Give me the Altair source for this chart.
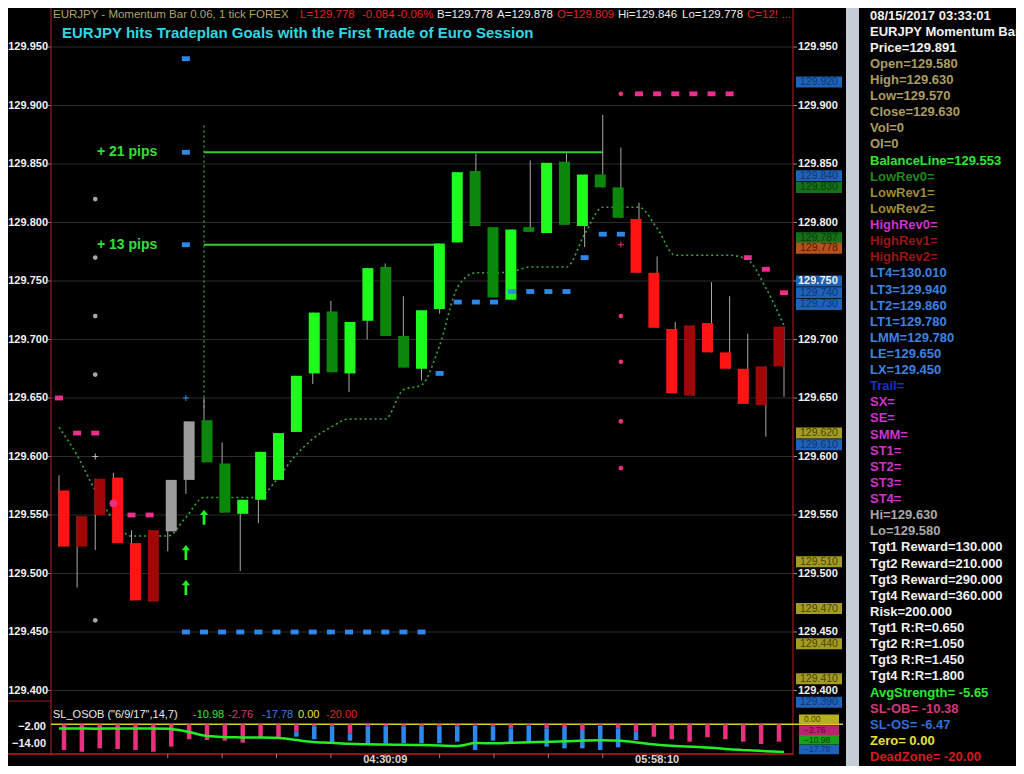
import altair as alt
import pandas as pd

FONT = "Liberation Sans"

# ---------------- price bars ----------------
bar_idx = list(range(41))
bar_open = [129.571, 129.549, 129.581, 129.582, 129.526, 129.537, 129.536, 129.580, 129.595, 129.552,
            129.551, 129.563, 129.580, 129.621, 129.671, 129.672, 129.671, 129.716, 129.703, 129.676,
            129.675, 129.726, 129.783, 129.797, 129.736, 129.734, 129.792, 129.791, 129.798, 129.797,
            129.830, 129.804, 129.803, 129.757, 129.709, 129.712, 129.714, 129.689, 129.675, 129.677,
            129.711]
bar_close = [129.523, 129.523, 129.550, 129.526, 129.477, 129.476, 129.580, 129.630, 129.631, 129.594,
             129.563, 129.604, 129.620, 129.669, 129.723, 129.724, 129.715, 129.761, 129.762, 129.703,
             129.725, 129.782, 129.843, 129.844, 129.796, 129.794, 129.796, 129.851, 129.852, 129.841,
             129.841, 129.830, 129.757, 129.710, 129.654, 129.652, 129.689, 129.675, 129.645, 129.644,
             129.677]
bar_high = [129.584, 129.549, 129.581, 129.586, 129.537, 129.537, 129.580, 129.630, 129.650, 129.612,
            129.563, 129.604, 129.620, 129.669, 129.723, 129.733, 129.715, 129.761, 129.765, 129.737,
            129.725, 129.782, 129.843, 129.859, 129.796, 129.794, 129.853, 129.851, 129.859, 129.841,
            129.892, 129.864, 129.817, 129.771, 129.715, 129.712, 129.749, 129.737, 129.705, 129.677,
            129.711]
bar_low = [129.523, 129.488, 129.520, 129.526, 129.477, 129.476, 129.519, 129.568, 129.595, 129.552,
           129.502, 129.543, 129.580, 129.621, 129.662, 129.672, 129.655, 129.700, 129.703, 129.676,
           129.665, 129.722, 129.783, 129.797, 129.736, 129.734, 129.792, 129.791, 129.798, 129.779,
           129.830, 129.804, 129.757, 129.710, 129.654, 129.652, 129.689, 129.675, 129.645, 129.617,
           129.651]
bar_kind = ["bear", "bear2", "bear2", "bear", "bear", "bear2", "flat", "flat", "bull2", "bull2",
            "bull", "bull", "bull", "bull", "bull", "bull2", "bull", "bull", "bull2", "bull2",
            "bull", "bull", "bull", "bull2", "bull2", "bull", "bull2", "bull", "bull2", "bull",
            "bull2", "bull2", "bear", "bear", "bear", "bear2", "bear", "bear", "bear", "bear2",
            "bear2"]

# balance / trail line (dotted)
trail = [129.625, 129.601, 129.571, 129.546, 129.532, 129.532, 129.532, 129.548, 129.565, 129.565,
         129.565, 129.565, 129.580, 129.600, 129.615, 129.625, 129.632, 129.632, 129.632, 129.657,
         129.661, 129.695, 129.745, 129.757, 129.757, 129.758, 129.762, 129.762, 129.762, 129.790,
         129.813, 129.813, 129.813, 129.795, 129.772, 129.772, 129.772, 129.772, 129.768, 129.744,
         129.712]

# markers
blue_sq_idx = [7, 7, 7] + list(range(7, 21)) + [21, 22, 23, 24, 25, 26, 27, 28, 29, 30, 31]
blue_sq_val = [129.940, 129.860, 129.781] + [129.450] * 14 + [129.671, 129.732, 129.732, 129.732,
               129.741, 129.741, 129.741, 129.741, 129.770, 129.790, 129.790]
pink_sq_idx = [0, 1, 2, 4, 5, 32, 33, 34, 35, 36, 37, 38, 39, 40]
pink_sq_val = [129.650, 129.620, 129.620, 129.550, 129.550, 129.910, 129.910, 129.910, 129.910,
               129.910, 129.910, 129.770, 129.760, 129.740]
pink_dot_idx = [3, 31, 31, 31, 31, 31]
pink_dot_val = [129.560, 129.910, 129.720, 129.681, 129.630, 129.590]
pink_dot_kind = ["big", "small", "small", "small", "small", "small"]
gray_dot_idx = [2, 2, 2, 2, 2]
gray_dot_val = [129.820, 129.770, 129.720, 129.670, 129.460]
cross_idx = [7, 31, 2]
cross_val = [129.650, 129.781, 129.600]
cross_kind = ["blue", "pink", "gray"]
arrow_idx = [7, 7, 8]
arrow_val = [129.518, 129.488, 129.548]

# target lines
goal_val = [129.860, 129.781]
goal_from = [8, 8]
goal_to = [30, 21]
goal_text = ["+ 21 pips", "+ 13 pips"]
mark_line_idx = 8
mark_line_top = 129.883
mark_line_bottom = 129.640

price_ticks = [129.40, 129.45, 129.50, 129.55, 129.60, 129.65, 129.70, 129.75, 129.80, 129.85, 129.90, 129.95]

tag_val = [129.830, 129.840, 129.787, 129.778, 129.920, 129.750, 129.740, 129.730,
           129.620, 129.610, 129.510, 129.470, 129.440, 129.410, 129.390]
tag_kind = ["green", "blue", "green", "orange", "blue", "blue", "blue", "blue",
            "olive", "blue", "olive", "olive", "olive", "olive", "blue"]

# ---------------- SL_OSOB indicator ----------------
osob_total = [-18.2, -19.4, -17.0, -17.5, -18.2, -19.4, -15.8, -10.6, -11.1, -11.6,
              -13.0, -9.2, -9.9, -8.8, -10.6, -13.0, -11.6, -13.9, -13.4, -13.4,
              -13.4, -13.4, -12.3, -18.2, -11.6, -13.6, -13.4, -15.8, -17.0, -17.0,
              -18.2, -16.3, -11.1, -8.8, -10.6, -12.3, -9.2, -10.6, -12.3, -13.9,
              -12.3]
osob_pink = [-18.2, -19.4, -17.0, -17.5, -18.2, -19.4, -15.8, -10.6, -11.1, -11.6,
             -13.0, -9.2, -9.9, -5.3, -1.5, -1.5, -6.4, -1.5, -1.5, -1.5,
             -1.5, -1.5, -1.5, -1.0, -1.5, -2.9, -1.0, -2.9, -2.0, -4.1,
             -1.0, -2.9, -5.3, -8.8, -10.6, -12.3, -9.2, -10.6, -12.3, -13.9,
             -12.3]
avg_strength = [-3.0, -3.0, -3.2, -3.0, -3.0, -3.0, -3.2, -5.0, -8.0, -9.0,
                -9.3, -9.4, -9.6, -11.0, -12.5, -13.1, -13.8, -14.1, -14.3, -14.5,
                -14.7, -15.0, -15.3, -13.3, -13.4, -13.0, -12.7, -12.4, -12.0, -11.5,
                -11.3, -11.6, -13.0, -14.5, -15.3, -15.9, -16.6, -17.7, -18.4, -19.0,
                -19.5]
osob_ticks = [-2.0, -14.0]
osob_tag_val = [0.0, -2.76, -10.98, -17.78]
osob_tag_kind = ["yellow", "pink", "green", "blue"]

time_ticks = [6, 9, 12, 15, 18, 21, 24, 27, 30, 33]
time_label_idx = [18, 33]
time_label_text = ["04:30:09", "05:58:10"]

header_parts = ["EURJPY - Momentum Bar 0.06, 1 tick  FOREX", "L=129.778", "-0.084", "-0.06%",
                "B=129.778", "A=129.878", "O=129.809", "Hi=129.846", "Lo=129.778", "C=12! ..."]
header_kind = ["khaki", "red", "red", "red", "white", "white", "red", "white", "white", "red"]
title_text = "EURJPY hits Tradeplan Goals with the First Trade of Euro Session"
osob_parts = ['SL_OSOB ("6/9/17",14,7)', "-10.98", "-2.76", "-17.78", "0.00", "-20.00"]
osob_kind = ["white", "green", "pink", "blue", "yellow", "red"]

panel_lines = ["08/15/2017 03:33:01", "EURJPY Momentum Bar", "Price=129.891", "Open=129.580",
               "High=129.630", "Low=129.570", "Close=129.630", "Vol=0", "OI=0",
               "BalanceLine=129.553", "LowRev0=", "LowRev1=", "LowRev2=", "HighRev0=",
               "HighRev1=", "HighRev2=", "LT4=130.010", "LT3=129.940", "LT2=129.860",
               "LT1=129.780", "LMM=129.780", "LE=129.650", "LX=129.450", "Trail=", "SX=",
               "SE=", "SMM=", "ST1=", "ST2=", "ST3=", "ST4=", "Hi=129.630", "Lo=129.580",
               "Tgt1 Reward=130.000", "Tgt2 Reward=210.000", "Tgt3 Reward=290.000",
               "Tgt4 Reward=360.000", "Risk=200.000", "Tgt1 R:R=0.650", "Tgt2 R:R=1.050",
               "Tgt3 R:R=1.450", "Tgt4 R:R=1.800", "AvgStrength= -5.65", "SL-OB= -10.38",
               "SL-OS= -6.47", "Zero= 0.00", "DeadZone= -20.00"]
panel_kind = ["white", "white", "white", "khaki", "khaki", "khaki", "khaki", "khaki", "khaki",
              "green", "dgreen", "olive", "olive", "magenta", "dred", "dred",
              "blue", "blue", "blue", "blue", "blue", "blue", "blue", "navy",
              "magenta", "magenta", "magenta", "magenta", "magenta", "magenta", "magenta",
              "gray", "gray", "white", "white", "white", "white", "white", "white", "white",
              "white", "white", "green", "pink", "sblue", "yellow", "red"]

# ---------------- layout helpers ----------------
W, H = 1008, 758
X0, X1 = 43, 785          # plot edges (svg px)
dummy = pd.DataFrame({"d": [0]})


def xs():
    return alt.Scale(domain=[0, 40], range=[51, 776], zero=False, nice=False)


def ys():
    return alt.Scale(domain=[129.40, 129.95], range=[682.5, 39], zero=False, nice=False)


def yi():
    return alt.Scale(domain=[-20, 0], range=[744.6, 716.2], zero=False, nice=False)


def XI(field="idx"):
    return alt.X(f"{field}:Q", scale=xs(), axis=None)


def YP(field):
    return alt.Y(f"{field}:Q", scale=ys(), axis=None)


def YO(field):
    return alt.Y(f"{field}:Q", scale=yi(), axis=None)


def prule(x1, x2, y1, y2, color, w=1.0):
    return alt.Chart(dummy).mark_rule(color=color, strokeWidth=w).encode(
        x=alt.value(x1), x2=alt.value(x2), y=alt.value(y1), y2=alt.value(y2))


def ptext(text, x, y, color, size, weight="normal", align="left"):
    return alt.Chart(dummy).mark_text(text=text, color=color, fontSize=size, fontWeight=weight,
                                      align=align, baseline="middle", font=FONT).encode(
        x=alt.value(x), y=alt.value(y))


RECT = "M-1,-0.6L1,-0.6L1,0.6L-1,0.6Z"
TAG = "M-1,-0.24L1,-0.24L1,0.24L-1,0.24Z"
ARROW = "M0,-1L0.55,-0.3L0.18,-0.3L0.18,1L-0.18,1L-0.18,-0.3L-0.55,-0.3Z"
CROSS = "M-1,0L1,0M0,-1L0,1"

layers = []

# separator strip between axis area and info panel
layers.append(alt.Chart(dummy).mark_rect(color="#c5ccd6").encode(
    x=alt.value(838), x2=alt.value(851), y=alt.value(0), y2=alt.value(H)))

# grid lines and tick marks
grid_df = pd.DataFrame({"p": price_ticks})
layers.append(alt.Chart(grid_df).mark_rule(color="#2b2b2b", strokeWidth=1).encode(
    y=YP("p"), x=alt.value(X0), x2=alt.value(X1)))
layers.append(alt.Chart(grid_df).mark_rule(color="#8a8a8a", strokeWidth=1).encode(
    y=YP("p"), x=alt.value(X1), x2=alt.value(X1 + 4)))
layers.append(alt.Chart(grid_df).mark_rule(color="#8a8a8a", strokeWidth=1).encode(
    y=YP("p"), x=alt.value(X0 - 3), x2=alt.value(X0)))

# axis frame lines
layers.append(prule(X0, X0, 0, 747, "#9b1d1d", 1.2))
layers.append(prule(X1, X1, 0, 747, "#9b1d1d", 1.2))
layers.append(prule(0, X0, 693, 693, "#9b1d1d", 1.2))
layers.append(prule(0, X1, 746, 746, "#c01818", 1.5))

# price tags on the right axis
tag_df = pd.DataFrame({"p": tag_val, "k": tag_kind})
tag_bg = alt.Scale(domain=["blue", "green", "orange", "olive"],
                   range=["#1f62b8", "#17701a", "#b4521c", "#a49b22"])
tag_fg = alt.Scale(domain=["blue", "green", "orange", "olive"],
                   range=["#0c3672", "#0b3e0b", "#5a1506", "#4a4608"])
layers.append(alt.Chart(tag_df).mark_point(shape=TAG, filled=True, size=2116, opacity=1).encode(
    y=YP("p"), x=alt.value(811), color=alt.Color("k:N", scale=tag_bg, legend=None)))
layers.append(alt.Chart(tag_df).mark_text(fontSize=10.5, font=FONT, align="left", baseline="middle").encode(
    y=YP("p"), x=alt.value(792), text=alt.Text("p:Q", format=".3f"),
    color=alt.Color("k:N", scale=tag_fg, legend=None)))

# axis labels
layers.append(alt.Chart(grid_df).mark_text(fontSize=11, font=FONT, color="#f2f2f2", align="left",
                                           baseline="middle", fontWeight="bold").encode(
    y=YP("p"), x=alt.value(790), text=alt.Text("p:Q", format=".3f")))
layers.append(alt.Chart(grid_df).mark_text(fontSize=11, font=FONT, color="#f2f2f2", align="right",
                                           baseline="middle", fontWeight="bold").encode(
    y=YP("p"), x=alt.value(40), text=alt.Text("p:Q", format=".3f")))

# trail (dotted)
trail_df = pd.DataFrame({"idx": bar_idx, "t": trail})
layers.append(alt.Chart(trail_df).mark_line(color="#3aa63a", strokeWidth=1.6, strokeDash=[2, 3],
                                            interpolate="monotone").encode(x=XI(), y=YP("t")))

# vertical dotted marker line
vm_df = pd.DataFrame({"idx": [mark_line_idx], "a": [mark_line_top], "b": [mark_line_bottom]})
layers.append(alt.Chart(vm_df).mark_rule(color="#3aa63a", strokeWidth=1.3, strokeDash=[2, 3]).encode(
    x=XI(), y=YP("a"), y2=alt.Y2("b")))

# goal lines
goal_df = pd.DataFrame({"p": goal_val, "a": goal_from, "b": goal_to, "t": goal_text})
layers.append(alt.Chart(goal_df).mark_rule(color="#2fd02f", strokeWidth=2).encode(
    y=YP("p"), x=XI("a"), x2=alt.X2("b")))
layers.append(alt.Chart(goal_df).mark_text(color="#2fe02f", fontSize=14, fontWeight="bold", font=FONT,
                                           align="left", baseline="middle").encode(
    y=YP("p"), x=alt.value(89), text="t:N"))

# candles
bars_df = pd.DataFrame({"idx": bar_idx, "o": bar_open, "c": bar_close, "h": bar_high,
                        "l": bar_low, "k": bar_kind})
layers.append(alt.Chart(bars_df).mark_rule(color="#a8a8a8", strokeWidth=1).encode(
    x=XI(), y=YP("l"), y2=alt.Y2("h")))
candle_scale = alt.Scale(domain=["bull", "bull2", "bear", "bear2", "flat"],
                         range=["#1dfc1d", "#0b870b", "#ff1414", "#a00808", "#9c9c9c"])
layers.append(alt.Chart(bars_df).mark_bar(width=11).encode(
    x=XI(), y=YP("o"), y2=alt.Y2("c"), color=alt.Color("k:N", scale=candle_scale, legend=None)))

# markers
bsq = pd.DataFrame({"idx": blue_sq_idx, "p": blue_sq_val})
layers.append(alt.Chart(bsq).mark_point(shape=RECT, filled=True, size=64, color="#2c88ea", opacity=1).encode(
    x=XI(), y=YP("p")))
psq = pd.DataFrame({"idx": pink_sq_idx, "p": pink_sq_val})
layers.append(alt.Chart(psq).mark_point(shape=RECT, filled=True, size=64, color="#ee2d8c", opacity=1).encode(
    x=XI(), y=YP("p")))
pdot = pd.DataFrame({"idx": pink_dot_idx, "p": pink_dot_val, "k": pink_dot_kind})
layers.append(alt.Chart(pdot).mark_circle(color="#e8307f", opacity=1).encode(
    x=XI(), y=YP("p"),
    size=alt.Size("k:N", scale=alt.Scale(domain=["big", "small"], range=[60, 22]), legend=None)))
gdot = pd.DataFrame({"idx": gray_dot_idx, "p": gray_dot_val})
layers.append(alt.Chart(gdot).mark_circle(color="#a8a8a8", opacity=1, size=22).encode(
    x=XI(), y=YP("p")))
cr = pd.DataFrame({"idx": cross_idx, "p": cross_val, "k": cross_kind})
layers.append(alt.Chart(cr).mark_point(shape=CROSS, filled=False, size=36, strokeWidth=1, opacity=1).encode(
    x=XI(), y=YP("p"),
    color=alt.Color("k:N", scale=alt.Scale(domain=["blue", "pink", "gray"],
                                           range=["#2c88ea", "#e8307f", "#bbbbbb"]), legend=None)))
ar = pd.DataFrame({"idx": arrow_idx, "p": arrow_val})
layers.append(alt.Chart(ar).mark_point(shape=ARROW, filled=True, size=225, color="#22f022", opacity=1).encode(
    x=XI(), y=YP("p")))

# ---------------- indicator ----------------
layers.append(alt.Chart(pd.DataFrame({"z": [0.0]})).mark_rule(color="#d8d020", strokeWidth=1.5).encode(
    y=YO("z"), x=alt.value(X0), x2=alt.value(835)))
osob_df = pd.DataFrame({"idx": bar_idx, "tot": osob_total, "pk": osob_pink,
                        "zero": [0.0] * len(bar_idx)})
blue_df = osob_df[osob_df["tot"] != osob_df["pk"]]
layers.append(alt.Chart(osob_df).mark_bar(width=4.5, color="#e8307f").encode(
    x=XI(), y=YO("zero"), y2=alt.Y2("pk")))
layers.append(alt.Chart(blue_df).mark_bar(width=4.5, color="#2c88ea").encode(
    x=XI(), y=YO("pk"), y2=alt.Y2("tot")))
avg_df = pd.DataFrame({"idx": bar_idx, "v": avg_strength})
layers.append(alt.Chart(avg_df).mark_line(color="#22ee22", strokeWidth=2.5, interpolate="monotone").encode(
    x=XI(), y=YO("v")))
ot_df = pd.DataFrame({"v": osob_ticks})
layers.append(alt.Chart(ot_df).mark_text(fontSize=11, font=FONT, color="#f2f2f2", align="right",
                                         baseline="middle", fontWeight="bold").encode(
    y=YO("v"), x=alt.value(38), text=alt.Text("v:Q", format=".2f")))

otag_bg = {"yellow": "#b8b020", "pink": "#c02070", "green": "#18a018", "blue": "#1f62b8"}
otag_fg = {"yellow": "#4a4608", "pink": "#5a0a30", "green": "#0b3e0b", "blue": "#0c3672"}
otag_shift = {"yellow": -5, "pink": 2, "green": 0, "blue": 0}
for v, k in zip(osob_tag_val, osob_tag_kind):
    one = pd.DataFrame({"v": [v]})
    layers.append(alt.Chart(one).mark_point(shape=TAG, filled=True, size=1600, opacity=1,
                                            color=otag_bg[k], yOffset=otag_shift[k]).encode(
        y=YO("v"), x=alt.value(811)))
    layers.append(alt.Chart(one).mark_text(fontSize=8.5, font=FONT, align="left", baseline="middle",
                                           color=otag_fg[k], dy=otag_shift[k]).encode(
        y=YO("v"), x=alt.value(796), text=alt.Text("v:Q", format=".2f")))

# time axis
tt = pd.DataFrame({"idx": time_ticks})
layers.append(alt.Chart(tt).mark_rule(color="#888888", strokeWidth=1).encode(
    x=XI(), y=alt.value(746), y2=alt.value(750)))
tl = pd.DataFrame({"idx": time_label_idx, "t": time_label_text})
layers.append(alt.Chart(tl).mark_text(fontSize=11, font=FONT, color="#d8d8d8", fontWeight="bold",
                                      align="center", baseline="middle").encode(
    x=XI(), y=alt.value(752), text="t:N"))

# ---------------- texts ----------------
txt_colors = {"khaki": "#b3a462", "red": "#e02222", "white": "#ececec", "green": "#2ee82e",
              "pink": "#d33a7a", "blue": "#3b7fe0", "yellow": "#e6e23a"}
header_x = [45, 292, 354, 389, 429, 489, 549, 610, 674, 739]
for t, k, x in zip(header_parts, header_kind, header_x):
    layers.append(ptext(t, x, 7, txt_colors[k], 11.5))
layers.append(ptext(title_text, 54, 25, "#2fd6e4", 15, "bold"))
osob_x = [45, 185, 220, 254, 290, 318]
for t, k, x in zip(osob_parts, osob_kind, osob_x):
    layers.append(ptext(t, x, 707, txt_colors[k], 11))

panel_df = pd.DataFrame({"row": list(range(len(panel_lines))), "t": panel_lines, "k": panel_kind})
panel_scale = alt.Scale(
    domain=["white", "khaki", "green", "dgreen", "olive", "magenta", "dred", "blue", "navy",
            "gray", "pink", "sblue", "yellow", "red"],
    range=["#f2f2f2", "#ab9d62", "#2ee82e", "#1b8a1b", "#9c8c3c", "#cc33cc", "#9a1414", "#3b82e0",
           "#1a2fc8", "#a8a8a8", "#d33a7a", "#2f6fd6", "#e6e23a", "#d41c1c"])
layers.append(alt.Chart(panel_df).mark_text(fontSize=13, font=FONT, fontWeight="bold", align="left",
                                            baseline="middle").encode(
    x=alt.value(862),
    y=alt.Y("row:Q", scale=alt.Scale(domain=[0, 46], range=[7.5, 749], zero=False, nice=False), axis=None),
    text="t:N",
    color=alt.Color("k:N", scale=panel_scale, legend=None)))

chart = alt.layer(*layers).resolve_scale(
    x="independent", y="independent", color="independent", size="independent"
).properties(
    width=W, height=H, padding=0, background="black",
    autosize=alt.AutoSizeParams(type="none")
).configure_view(stroke=None)

chart.save("out.html", embed_options={"renderer": "svg", "actions": False})
